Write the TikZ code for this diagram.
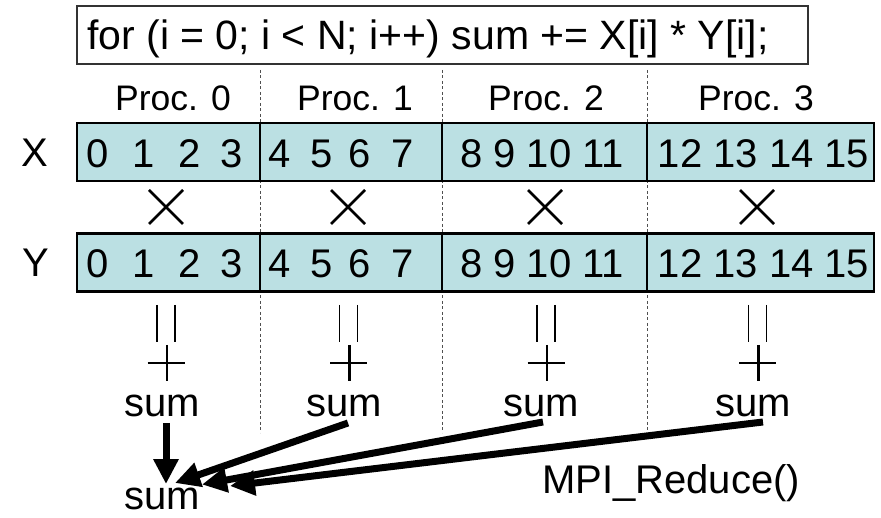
\documentclass[tikz,border=0pt]{standalone}
\usepackage{fontspec}
\setmainfont{Liberation Sans}
\usetikzlibrary{arrows.meta}
\definecolor{arrfill}{RGB}{187,224,227}
\definecolor{dotgray}{RGB}{80,80,80}
\tikzset{
  big/.style={font=\fontsize{40pt}{48pt}\selectfont, inner sep=0pt, anchor=base},
  code/.style={font=\fontsize{41pt}{49pt}\selectfont, inner sep=0pt, anchor=base west},
  proclabel/.style={font=\fontsize{35.5pt}{43pt}\selectfont, inner sep=0pt, anchor=base},
  cell/.style={draw=black, line width=2.5pt, fill=arrfill, inner sep=0pt, minimum height=58pt},
  codebox/.style={draw=black!80, line width=1.2pt, inner sep=0pt, minimum width=731pt, minimum height=58pt},
  divider/.style={draw=dotgray, line width=1pt, dash pattern=on 3pt off 2.5pt},
  opline/.style={line width=2.6pt},
  eqline/.style={line width=1.3pt},
  reduce/.style={line width=7pt, -{Triangle[length=25pt,width=24pt]}}
}
\begin{document}
\begin{tikzpicture}[x=1pt,y=-1pt]
\useasboundingbox (0,0) rectangle (881,518);
% dotted process dividers
\draw[divider] (260,70) -- (260,433);
\draw[divider] (442,70) -- (442,433);
\draw[divider] (647,70) -- (647,433);
% code box
\node[codebox] (codebox) at (442.5,35) {};
\node[code] (codetext) at (87,50) {for (i = 0; i < N; i++) sum += X[i] * Y[i];};
% process labels
\node[proclabel] (p0) at (173,111) {Proc. 0};
\node[proclabel] (p1) at (355,111) {Proc. 1};
\node[proclabel] (p2) at (546,111) {Proc. 2};
\node[proclabel] (p3) at (756,111) {Proc. 3};
% row labels
\node[big] (lx) at (35,167) {X};
\node[big] (ly) at (36,277) {Y};
% X row cells
\node[cell, minimum width=183pt] (x0) at (168.5,152) {};
\node[cell, minimum width=182pt] (x1) at (351,152) {};
\node[cell, minimum width=205pt] (x2) at (544.5,152) {};
\node[cell, minimum width=227pt] (x3) at (760.5,152) {};
% Y row cells
\node[cell, minimum width=183pt] (y0) at (168.5,262.5) {};
\node[cell, minimum width=182pt] (y1) at (351,262.5) {};
\node[cell, minimum width=205pt] (y2) at (544.5,262.5) {};
\node[cell, minimum width=227pt] (y3) at (760.5,262.5) {};
% numbers
\foreach \v/\xx in {0/98,1/144,2/190,3/232,4/280,5/322,6/360,7/403}{
  \node[big] (xn\v) at (\xx,168) {\v};
  \node[big] (yn\v) at (\xx,278) {\v};
}
\node[big] (xg2) at (542,168) {8 9 10 11};
\node[big] (xg3) at (763.5,168) {12 13 14 15};
\node[big] (yg2) at (542,278) {8 9 10 11};
\node[big] (yg3) at (763.5,278) {12 13 14 15};
% multiplication crosses
\foreach \c/\cx in {0/166,1/348,2/545,3/757}{
  \draw[opline] (\cx-17,190) -- (\cx+17,224);
  \draw[opline] (\cx-17,224) -- (\cx+17,190);
}
% equals (vertical) and plus signs
\foreach \c/\cx in {0/166,1/348.5,2/546,3/757.5}{
  \draw[eqline] (\cx-9,305) -- (\cx-9,342);
  \draw[eqline] (\cx+9,305) -- (\cx+9,342);
  \draw[opline] (\cx-18.5,363) -- (\cx+18.5,363);
  \draw[opline] (\cx+1,345) -- (\cx+1,381);
}
% partial sums
\node[big] (s0) at (162,417) {sum};
\node[big] (s1) at (344,417) {sum};
\node[big] (s2) at (541,417) {sum};
\node[big] (s3) at (753,417) {sum};
% total sum
\node[big] (st) at (162,509) {sum};
% reduction arrows
\coordinate (a0) at (166,423);
\coordinate (a1) at (348,423);
\coordinate (a2) at (543,422);
\coordinate (a3) at (763,422);
\coordinate (t0) at (166,484);
\coordinate (t1) at (175,483);
\coordinate (t2) at (202,484.5);
\coordinate (t3) at (230,486);
\draw[reduce] (a0) -- (t0);
\draw[reduce] (a1) -- (t1);
\draw[reduce] (a2) -- (t2);
\draw[reduce] (a3) -- (t3);
% label
\node[big] (mpi) at (671,493) {MPI\_Reduce()};
\end{tikzpicture}
\end{document}
